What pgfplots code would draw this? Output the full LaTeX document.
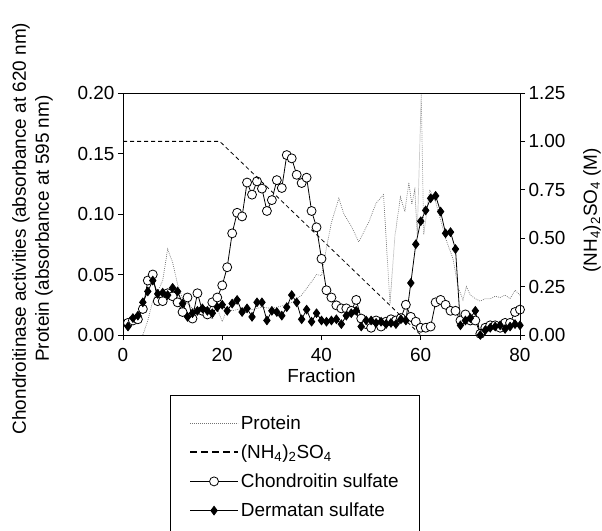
\documentclass[border=0pt]{standalone}
\usepackage{fontspec}
\setmainfont{Liberation Sans}
\usepackage{pgfplots}
\pgfplotsset{compat=1.18}

\pgfplotstableread{
f   cs
1   0.010
2   0.012
3   0.013
4   0.0215
5   0.045
6   0.050
7   0.028
8   0.028
9   0.0345
10  0.032
11  0.027
12  0.019
13  0.031
14  0.0136
15  0.0345
16  0.020
17  0.017
18  0.027
19  0.031
20  0.041
21  0.056
22  0.084
23  0.101
24  0.098
25  0.126
26  0.116
27  0.127
28  0.121
29  0.1025
30  0.1115
31  0.128
32  0.1215
33  0.1487
34  0.146
35  0.1324
36  0.1256
37  0.130
38  0.1025
39  0.089
40  0.063
41  0.037
42  0.031
43  0.0245
44  0.022
45  0.022
46  0.020
47  0.029
48  0.0136
49  0.009
50  0.006
51  0.012
52  0.007
53  0.011
54  0.013
55  0.012
56  0.014
57  0.025
58  0.015
59  0.011
60  0.006
61  0.006
62  0.007
63  0.027
64  0.029
65  0.025
66  0.020
67  0.020
68  0.012
69  0.017
70  0.012
71  0.012
72  0.001
73  0.006
74  0.008
75  0.008
76  0.006
77  0.010
78  0.010
79  0.019
80  0.021
}\chondroitin

\pgfplotstableread{
f   ds
1   0.007
2   0.014
3   0.016
4   0.027
5   0.036
6   0.045
7   0.034
8   0.035
9   0.033
10  0.039
11  0.036
12  0.026
13  0.015
14  0.018
15  0.020
16  0.022
17  0.020
18  0.018
19  0.023
20  0.025
21  0.020
22  0.026
23  0.029
24  0.019
25  0.022
26  0.015
27  0.027
28  0.027
29  0.012
30  0.020
31  0.019
32  0.016
33  0.023
34  0.033
35  0.027
36  0.013
37  0.021
38  0.011
39  0.018
40  0.012
41  0.011
42  0.012
43  0.013
44  0.009
45  0.016
46  0.018
47  0.020
48  0.007
49  0.012
50  0.012
51  0.010
52  0.011
53  0.009
54  0.010
55  0.009
56  0.013
57  0.012
58  0.043
59  0.075
60  0.094
61  0.103
62  0.113
63  0.115
64  0.102
65  0.084
66  0.085
67  0.071
68  0.008
69  0.012
70  0.014
71  0.020
72  0.000
73  0.004
74  0.006
75  0.007
76  0.008
77  0.005
78  0.007
79  0.009
80  0.008
}\dermatan

\pgfplotstableread{
f     p
4     0.000
5     0.012
6     0.028
7     0.036
8     0.045
9     0.071
10    0.060
11    0.042
12    0.030
13    0.026
14    0.022
15    0.021
16    0.022
17    0.020
18    0.013
19    0.022
20    0.011
21    0.022
22    0.020
24    0.022
26    0.021
28    0.023
30    0.022
32    0.024
34    0.027
36    0.033
38    0.044
39    0.050
40    0.049
41    0.072
42    0.093
43.5  0.113
44.5  0.100
46    0.090
47.5  0.077
49.5  0.093
51    0.109
52.5  0.116
53.8  0.026
54.8  0.082
55.9  0.114
56.8  0.102
57.6  0.126
58.2  0.108
58.8  0.120
59.3  0.083
60.1  0.199
60.6  0.083
61.8  0.120
63    0.110
64    0.095
65    0.080
66.5  0.063
67.5  0.040
68.5  0.029
69.2  0.040
70    0.033
71    0.030
72    0.028
73    0.030
74    0.030
75    0.032
76    0.031
77    0.033
78    0.030
79    0.037
80    0.033
}\protein

\begin{document}
\begin{tikzpicture}[font=\fontsize{19}{23}\selectfont]
\pgfplotsset{
  base/.style={
    scale only axis, width=397bp, height=242bp,
    xmin=0, xmax=80,
    tick align=outside, major tick length=5bp,
    every tick label/.append style={font=\fontsize{19}{23}\selectfont},
    label style={font=\fontsize{19}{23}\selectfont},
    /pgf/number format/assume math mode=true,
    axis line style={line width=0.8bp},
    every tick/.style={black, line width=0.8bp},
  },
}
\begin{axis}[
    base, name=main,
    ymin=0, ymax=0.2,
    xtick={0,20,40,60,80},
    ytick={0,0.05,0.1,0.15,0.2},
    tick pos=left,
    xticklabel style={yshift=-5bp},
    yticklabel style={/pgf/number format/.cd, fixed, fixed zerofill, precision=2},
    xlabel={Fraction},
    ylabel={Chondroitinase activities (absorbance at 620 nm)\\Protein (absorbance at 595 nm)},
    ylabel style={align=center, at={(axis description cs:-0.228,0.44)}, anchor=center},
    legend style={at={(0.118,-0.248)}, anchor=north west, draw=black, line width=0.8bp,
        font=\fontsize{19}{23}\selectfont, row sep=10bp, inner xsep=19bp, inner ysep=18bp},
    legend cell align=left,
    legend image code/.code={\draw[mark repeat=2,mark phase=2,#1] plot coordinates {(0bp,0bp) (24bp,0bp) (48bp,0bp)};},
]
\addplot[black!55, line width=0.7bp, dash pattern=on 0.8bp off 1.2bp] table[x=f, y=p] {\protein};
\addlegendentry{Protein}
\addlegendimage{black, line width=1.6bp, dash pattern=on 7bp off 4bp}
\addlegendentry{(NH\textsubscript{4})\textsubscript{2}SO\textsubscript{4}}
\addplot[black, line width=0.8bp, mark=*, mark size=4.5bp, mark options={fill=white, draw=black, line width=0.8bp}] table[x=f, y=cs] {\chondroitin};
\addlegendentry{Chondroitin sulfate}
\addplot[black, line width=0.8bp, mark=diamond*, mark size=4.3bp, mark options={fill=black}] table[x=f, y=ds] {\dermatan};
\addlegendentry{Dermatan sulfate}
\end{axis}
\begin{axis}[
    base,
    ymin=0, ymax=1.25,
    axis x line=none, axis y line*=right,
    ytick={0,0.25,0.5,0.75,1,1.25},
    yticklabel style={/pgf/number format/.cd, fixed, fixed zerofill, precision=2},
    ylabel={(NH\textsubscript{4})\textsubscript{2}SO\textsubscript{4} (M)},
    ylabel style={at={(axis description cs:1.181,0.515)}, anchor=center},
]
\addplot[black, line width=0.8bp, dash pattern=on 4bp off 3bp] coordinates {(0,1.0) (19.5,1.0) (60,0)};
\end{axis}
\pgfresetboundingbox
\useasboundingbox ([xshift=-123bp,yshift=-196bp]main.south west) rectangle ([xshift=82bp,yshift=93bp]main.north east);
\end{tikzpicture}
\end{document}
